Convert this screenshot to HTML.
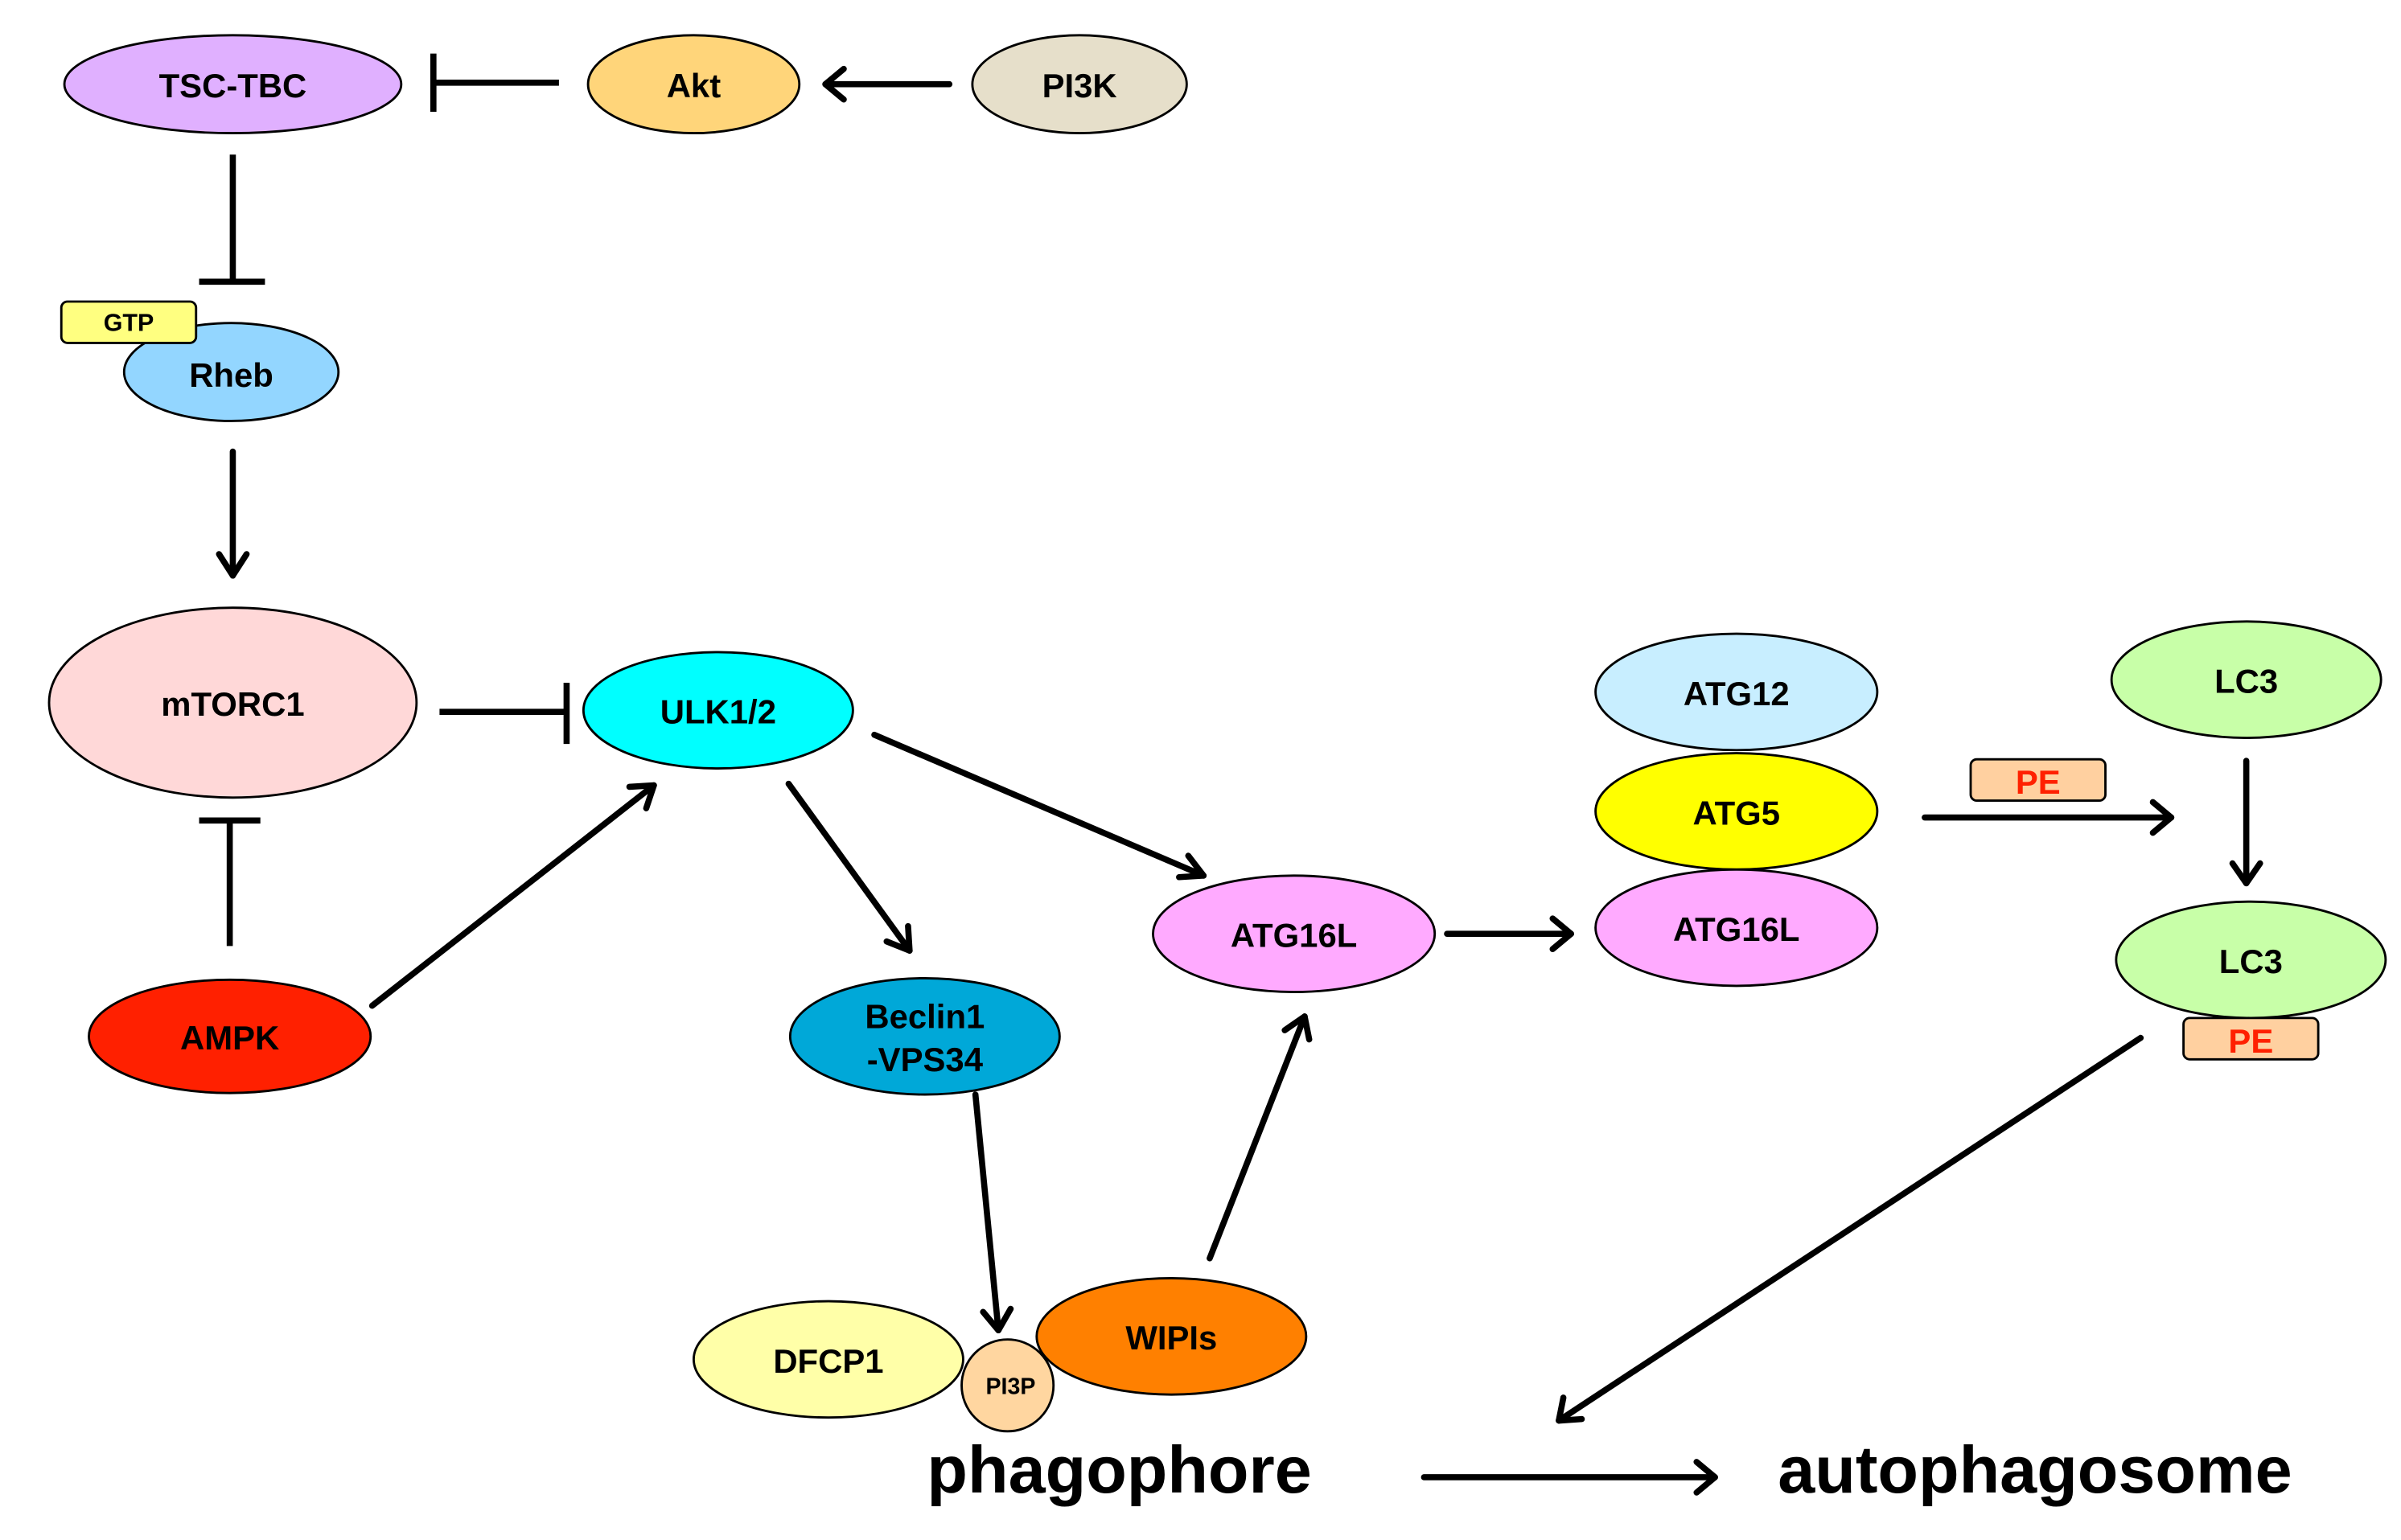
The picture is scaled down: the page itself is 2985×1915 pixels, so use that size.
<!DOCTYPE html>
<html><head><meta charset="utf-8"><style>
html,body{margin:0;padding:0;background:#fff;}
svg{display:block;}
text{font-family:"Liberation Sans",Arial,sans-serif;font-weight:bold;text-anchor:middle;dominant-baseline:central;}
</style></head><body>
<svg width="2985" height="1915" viewBox="0 0 1568 1006" xmlns="http://www.w3.org/2000/svg">
<g stroke="#000" stroke-width="4" fill="none" stroke-linecap="butt">
<line x1="365" y1="54" x2="283" y2="54"/><line x1="283" y1="35" x2="283" y2="73"/>
<line x1="152" y1="101" x2="152" y2="184"/><line x1="130" y1="184" x2="173" y2="184"/>
<line x1="287" y1="465" x2="370" y2="465"/><line x1="370" y1="446" x2="370" y2="486"/>
<line x1="150" y1="618" x2="150" y2="536"/><line x1="130" y1="536" x2="170" y2="536"/>
</g>
<g stroke="#000" stroke-width="4" fill="none" stroke-linecap="round" stroke-linejoin="round">
<line x1="620" y1="55" x2="539" y2="55"/><polyline points="551,45 539,55 551,65"/>
<line x1="152" y1="295" x2="152" y2="376"/><polyline points="143,362 152,376 161,362"/>
<line x1="243" y1="657" x2="427" y2="513"/><polyline points="411,514 427,513 422,528"/>
<line x1="515" y1="512" x2="594" y2="621"/><polyline points="579,615 594,621 593,605"/>
<line x1="571" y1="480" x2="786" y2="572"/><polyline points="770,573 786,572 776,559"/>
<line x1="945" y1="610" x2="1026" y2="610"/><polyline points="1014,600 1026,610 1014,620"/>
<line x1="1257" y1="534" x2="1418" y2="534"/><polyline points="1406,524 1418,534 1406,544"/>
<line x1="1467" y1="497" x2="1467" y2="577"/><polyline points="1458,564 1467,577 1476,564"/>
<line x1="1398" y1="678" x2="1018" y2="928"/><polyline points="1021,913 1018,928 1033,927"/>
<line x1="637" y1="715" x2="652" y2="869"/><polyline points="642,857 652,869 660,855"/>
<line x1="790" y1="822" x2="852" y2="664"/><polyline points="839,673 852,664 855,679"/>
<line x1="930" y1="965" x2="1120" y2="965"/><polyline points="1108,955 1120,965 1108,975"/>
</g>
<g stroke="#000" stroke-width="1.5">
<ellipse cx="152" cy="55" rx="110" ry="32" fill="#e0b0ff"/>
<ellipse cx="453" cy="55" rx="69" ry="32" fill="#ffd57a"/>
<ellipse cx="705" cy="55" rx="70" ry="32" fill="#e6dfca"/>
<ellipse cx="151" cy="243" rx="70" ry="32" fill="#93d6ff"/>
<rect x="40" y="197" width="88" height="27" rx="4" fill="#ffff80"/>
<ellipse cx="152" cy="459" rx="120" ry="62" fill="#ffd8d8"/>
<ellipse cx="469" cy="464" rx="88" ry="38" fill="#00ffff"/>
<ellipse cx="150" cy="677" rx="92" ry="37" fill="#ff2000"/>
<ellipse cx="604" cy="677" rx="88" ry="38" fill="#00a8d8"/>
<ellipse cx="845" cy="610" rx="92" ry="38" fill="#ffaaff"/>
<ellipse cx="1134" cy="452" rx="92" ry="38" fill="#c8eeff"/>
<ellipse cx="1134" cy="606" rx="92" ry="38" fill="#ffaaff"/>
<ellipse cx="1134" cy="530" rx="92" ry="38" fill="#ffff00"/>
<rect x="1287" y="496" width="88" height="27" rx="4" fill="#ffd0a0"/>
<ellipse cx="1467" cy="444" rx="88" ry="38" fill="#c8ffa8"/>
<ellipse cx="1470" cy="627" rx="88" ry="38" fill="#c8ffa8"/>
<rect x="1426" y="665" width="88" height="27" rx="4" fill="#ffd0a0"/>
<ellipse cx="541" cy="888" rx="88" ry="38" fill="#ffffa8"/>
<ellipse cx="765" cy="873" rx="88" ry="38" fill="#ff8000"/>
<circle cx="658" cy="905" r="30" fill="#ffd6a0"/>
</g>
<g font-size="22" fill="#000">
<text x="152" y="56">TSC-TBC</text>
<text x="453" y="56">Akt</text>
<text x="705" y="56">PI3K</text>
<text x="84" y="211" font-size="16">GTP</text>
<text x="151" y="245">Rheb</text>
<text x="152" y="460">mTORC1</text>
<text x="469" y="465">ULK1/2</text>
<text x="150" y="678">AMPK</text>
<text x="604" y="664">Beclin1</text>
<text x="604" y="692">-VPS34</text>
<text x="845" y="611">ATG16L</text>
<text x="1134" y="453">ATG12</text>
<text x="1134" y="531">ATG5</text>
<text x="1134" y="607">ATG16L</text>
<text x="1331" y="511" fill="#ff2000">PE</text>
<text x="1467" y="445">LC3</text>
<text x="1470" y="628">LC3</text>
<text x="1470" y="680" fill="#ff2000">PE</text>
<text x="541" y="889">DFCP1</text>
<text x="765" y="874">WIPIs</text>
<text x="660" y="906" font-size="15">PI3P</text>
<text x="731" y="960" font-size="43.5">phagophore</text>
<text x="1329" y="960" font-size="43.5">autophagosome</text>
</g>
</svg>
</body></html>
